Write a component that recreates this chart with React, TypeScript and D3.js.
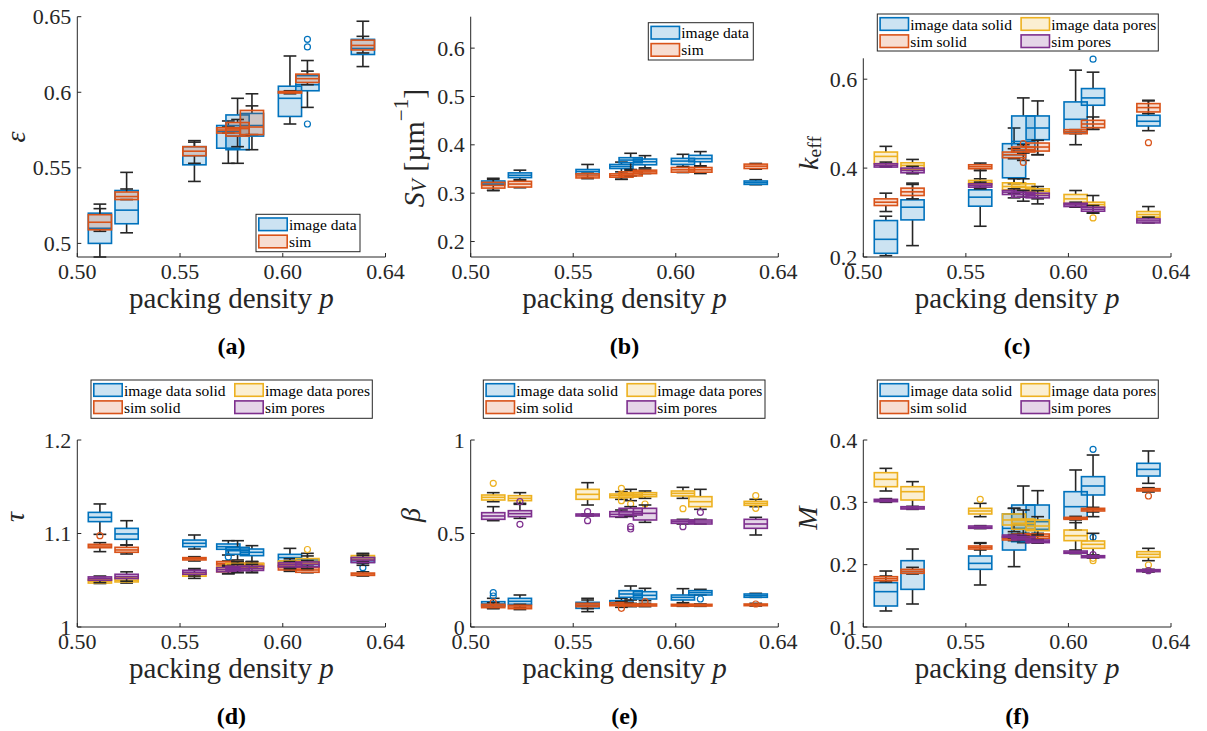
import React from 'react';
import * as d3 from 'd3';

// x positions of the box groups (packing density)
const packingDensity = [0.511, 0.524, 0.557, 0.5735, 0.578, 0.585, 0.6035, 0.612, 0.639];
const xTickValues = [0.5, 0.55, 0.6, 0.65];
const xTickLabels = ['0.50', '0.55', '0.60', '0.64'];

// every row: [lower whisker, q1, median, q3, upper whisker]; outliers: [group index, value]
const epsImage = [
  [0.491, 0.500, 0.510, 0.520, 0.526], [0.507, 0.513, 0.522, 0.535, 0.547], [0.541, 0.552, 0.558, 0.564, 0.568],
  [0.553, 0.563, 0.574, 0.578, 0.581], [0.553, 0.562, 0.571, 0.585, 0.596], [0.562, 0.571, 0.578, 0.586, 0.591],
  [0.579, 0.584, 0.596, 0.604, 0.624], [0.590, 0.601, 0.605, 0.611, 0.621], [0.617, 0.625, 0.629, 0.635, 0.647],
];
const epsImageOut = [[7, 0.635], [7, 0.630], [7, 0.579]];
const epsSim = [
  [0.508, 0.509, 0.514, 0.519, 0.523], [0.529, 0.529, 0.531, 0.534, 0.536], [0.553, 0.558, 0.561, 0.564, 0.567],
  [0.573, 0.573, 0.575, 0.5765, 0.577], [0.564, 0.571, 0.576, 0.580, 0.582], [0.572, 0.572, 0.577, 0.588, 0.599],
  [0.599, 0.5995, 0.600, 0.6005, 0.601], [0.605, 0.6065, 0.609, 0.612, 0.614], [0.626, 0.628, 0.631, 0.6345, 0.637],
];

const svImage = [
  [0.3056, 0.3175, 0.321, 0.3252, 0.3308], [0.3266, 0.3322, 0.337, 0.342, 0.3476], [0.3315, 0.340, 0.3448, 0.349, 0.3594],
  [0.3287, 0.351, 0.3552, 0.3594, 0.3643], [0.3476, 0.3629, 0.3685, 0.3734, 0.3825], [0.3524, 0.3587, 0.365, 0.3706, 0.3776],
  [0.3545, 0.3594, 0.3664, 0.372, 0.3804], [0.3566, 0.365, 0.3713, 0.3783, 0.386], [0.3175, 0.3182, 0.3217, 0.3252, 0.328],
];
const svSim = [
  [0.3056, 0.3105, 0.316, 0.3224, 0.3287], [0.3112, 0.3126, 0.3189, 0.3245, 0.328], [0.330, 0.3315, 0.3357, 0.340, 0.3413],
  [0.3287, 0.333, 0.3364, 0.340, 0.3441], [0.3357, 0.3357, 0.340, 0.3441, 0.349], [0.3406, 0.3406, 0.3441, 0.3476, 0.3497],
  [0.3427, 0.3434, 0.3483, 0.3531, 0.3552], [0.3406, 0.3434, 0.3483, 0.3531, 0.3552], [0.3497, 0.351, 0.3559, 0.3601, 0.3615],
];

const keffImageSolid = [
  [0.203, 0.2083, 0.2398, 0.282, 0.2917], [0.2256, 0.2835, 0.312, 0.3286, 0.3662], [0.2692, 0.3143, 0.3346, 0.3511, 0.3759],
  [0.3647, 0.3782, 0.430, 0.4549, 0.4902], [0.4173, 0.44, 0.46, 0.5173, 0.5579], [0.4301, 0.4639, 0.4902, 0.5173, 0.5511],
  [0.4526, 0.4812, 0.5098, 0.5489, 0.6203], [0.4872, 0.5414, 0.5579, 0.5789, 0.6158], [0.4842, 0.4947, 0.5053, 0.5188, 0.5511],
];
const keffImageSolidOut = [[7, 0.6451]];
const keffSimSolid = [
  [0.3023, 0.3158, 0.3233, 0.3308, 0.3436], [0.3308, 0.3383, 0.3466, 0.3549, 0.3632], [0.3947, 0.3985, 0.403, 0.4075, 0.4113],
  [0.4211, 0.4233, 0.4301, 0.4361, 0.4436], [0.4338, 0.4361, 0.4413, 0.4474, 0.4526], [0.4301, 0.4383, 0.4474, 0.4564, 0.4624],
  [0.4774, 0.4774, 0.482, 0.4865, 0.4865], [0.4872, 0.491, 0.4992, 0.5075, 0.515], [0.5226, 0.5263, 0.5361, 0.5451, 0.5526],
];
const keffSimSolidOut = [[4, 0.4549], [4, 0.4128], [8, 0.4571]];
const keffImagePores = [
  [0.404, 0.4098, 0.4263, 0.4361, 0.4489], [0.39, 0.3962, 0.406, 0.412, 0.4195], [0.3571, 0.3632, 0.3677, 0.3722, 0.3947],
  [0.3421, 0.3511, 0.3586, 0.3669, 0.3759], [0.3346, 0.3511, 0.3571, 0.3647, 0.3759], [0.3308, 0.3421, 0.3481, 0.3534, 0.3586],
  [0.312, 0.3195, 0.3308, 0.3406, 0.3496], [0.2992, 0.312, 0.318, 0.3233, 0.3383], [0.2895, 0.2895, 0.2955, 0.3023, 0.3135],
];
const keffImagePoresOut = [[7, 0.288]];
const keffSimPores = [
  [0.4023, 0.4023, 0.406, 0.4098, 0.4135], [0.3872, 0.3895, 0.3947, 0.40, 0.4038], [0.3534, 0.3571, 0.3609, 0.3647, 0.3684],
  [0.333, 0.3406, 0.3459, 0.3496, 0.3534], [0.3256, 0.3346, 0.3406, 0.3459, 0.3496], [0.3195, 0.3331, 0.3383, 0.3436, 0.3496],
  [0.3135, 0.3135, 0.3173, 0.321, 0.3233], [0.2985, 0.303, 0.3075, 0.312, 0.3158], [0.2767, 0.2767, 0.2812, 0.2857, 0.2895],
];

const tauImageSolid = [
  [1.0991, 1.1127, 1.1173, 1.1226, 1.1316], [1.0877, 1.0938, 1.0995, 1.1055, 1.1137], [1.0834, 1.0859, 1.0895, 1.093, 1.0984],
  [1.077, 1.0831, 1.0859, 1.0888, 1.0923], [1.0717, 1.0777, 1.0816, 1.0852, 1.0923], [1.070, 1.0763, 1.0799, 1.0834, 1.087],
  [1.061, 1.0706, 1.0742, 1.0777, 1.0841], [1.061, 1.0645, 1.0681, 1.0717, 1.0788], [1.0681, 1.0692, 1.0717, 1.0742, 1.0788],
];
const tauImageSolidOut = [[3, 1.0749], [8, 1.0635]];
const tauSimSolid = [
  [1.0806, 1.0848, 1.0866, 1.0884, 1.0902], [1.0781, 1.0799, 1.0824, 1.0852, 1.0877], [1.0706, 1.0717, 1.073, 1.0742, 1.0752],
  [1.0652, 1.0663, 1.068, 1.070, 1.0706], [1.0635, 1.0645, 1.0663, 1.068, 1.0695], [1.0635, 1.0645, 1.0663, 1.068, 1.0695],
  [1.0595, 1.061, 1.0635, 1.0656, 1.067], [1.058, 1.0585, 1.061, 1.0635, 1.0645], [1.0545, 1.0552, 1.0567, 1.0577, 1.059],
];
const tauSimSolidOut = [[0, 1.0977]];
const tauImagePores = [
  [1.0465, 1.047, 1.049, 1.051, 1.052], [1.047, 1.0482, 1.050, 1.0525, 1.0535], [1.052, 1.0543, 1.0561, 1.0579, 1.061],
  [1.057, 1.0589, 1.0616, 1.0643, 1.066], [1.06, 1.0625, 1.065, 1.0679, 1.07], [1.06, 1.0625, 1.065, 1.0679, 1.07],
  [1.064, 1.066, 1.068, 1.0707, 1.073], [1.065, 1.0679, 1.070, 1.0732, 1.076], [1.07, 1.0721, 1.0742, 1.0764, 1.078],
];
const tauImagePoresOut = [[7, 1.0829]];
const tauSimPores = [
  [1.0475, 1.050, 1.052, 1.0536, 1.0545], [1.049, 1.0518, 1.054, 1.0564, 1.059], [1.0545, 1.0564, 1.0586, 1.0607, 1.0625],
  [1.057, 1.059, 1.0613, 1.0636, 1.065], [1.058, 1.0605, 1.0625, 1.065, 1.067], [1.058, 1.0605, 1.0625, 1.065, 1.067],
  [1.0625, 1.0643, 1.0665, 1.0686, 1.070], [1.0625, 1.0643, 1.067, 1.0696, 1.071], [1.066, 1.0689, 1.0716, 1.0743, 1.0765],
];

const betaImageSolid = [
  [0.0998, 0.1123, 0.123, 0.1355, 0.1533], [0.1052, 0.1212, 0.1373, 0.1533, 0.1711], [0.082, 0.0998, 0.1159, 0.1319, 0.1533],
  [0.1159, 0.123, 0.132, 0.1408, 0.1533], [0.1444, 0.1587, 0.1765, 0.1943, 0.2193], [0.1408, 0.1497, 0.1693, 0.1889, 0.2068],
  [0.1301, 0.1444, 0.1587, 0.1711, 0.205], [0.1711, 0.1711, 0.1836, 0.1943, 0.2015], [0.1587, 0.1587, 0.1676, 0.1765, 0.18],
];
const betaImageSolidOut = [[0, 0.1836], [0, 0.1658], [7, 0.1497]];
const betaSimSolid = [
  [0.098, 0.1034, 0.1123, 0.1212, 0.1301], [0.093, 0.098, 0.107, 0.1159, 0.1212], [0.098, 0.1087, 0.1177, 0.1266, 0.1444],
  [0.1052, 0.1141, 0.1212, 0.1301, 0.1355], [0.1087, 0.1123, 0.1177, 0.123, 0.1266], [0.1087, 0.1123, 0.1177, 0.123, 0.1266],
  [0.1105, 0.1123, 0.1159, 0.1212, 0.123], [0.1105, 0.1123, 0.1159, 0.1212, 0.123], [0.1123, 0.1141, 0.1177, 0.123, 0.1266],
];
const betaSimSolidOut = [[0, 0.1319], [3, 0.0998], [5, 0.1355], [8, 0.123]];
const betaImagePores = [
  [0.6702, 0.6791, 0.6934, 0.7059, 0.7184], [0.6613, 0.6756, 0.6881, 0.7023, 0.7184], [0.6524, 0.6827, 0.7094, 0.7362, 0.7718],
  [0.6827, 0.6916, 0.7023, 0.7112, 0.7237], [0.6756, 0.6934, 0.7059, 0.7184, 0.7362], [0.688, 0.697, 0.7077, 0.7184, 0.7273],
  [0.688, 0.7005, 0.7148, 0.7273, 0.7469], [0.6292, 0.6435, 0.6702, 0.697, 0.7362], [0.6435, 0.6506, 0.6613, 0.672, 0.683],
];
const betaImagePoresOut = [[0, 0.7683], [3, 0.7415], [3, 0.6756], [4, 0.6578], [5, 0.6578], [6, 0.6328], [8, 0.7023], [8, 0.6346]];
const betaSimPores = [
  [0.5686, 0.5758, 0.5936, 0.6114, 0.6435], [0.5811, 0.59, 0.606, 0.622, 0.656], [0.5936, 0.5936, 0.5989, 0.6043, 0.6043],
  [0.5865, 0.59, 0.6025, 0.6168, 0.6257], [0.5936, 0.5989, 0.6168, 0.6346, 0.6435], [0.5597, 0.5722, 0.6078, 0.6346, 0.6524],
  [0.5508, 0.5544, 0.5633, 0.5722, 0.5758], [0.5508, 0.5508, 0.5615, 0.5722, 0.5758], [0.492, 0.5276, 0.5508, 0.5758, 0.5865],
];
const betaSimPoresOut = [[1, 0.6702], [1, 0.549], [2, 0.6168], [2, 0.5686], [4, 0.5365], [4, 0.524], [6, 0.5365], [7, 0.6132]];

const mImageSolid = [
  [0.1257, 0.1337, 0.1567, 0.1711, 0.1818], [0.1369, 0.1604, 0.1888, 0.2064, 0.2251], [0.1674, 0.1925, 0.2021, 0.2139, 0.2342],
  [0.1968, 0.2235, 0.2583, 0.2813, 0.2904], [0.2353, 0.2369, 0.2636, 0.2957, 0.3262], [0.2396, 0.2567, 0.269, 0.2957, 0.3187],
  [0.2556, 0.2743, 0.293, 0.3171, 0.3519], [0.277, 0.3118, 0.3262, 0.3412, 0.3759], [0.3305, 0.3422, 0.3529, 0.3626, 0.3824],
];
const mImageSolidOut = [[7, 0.385], [7, 0.2439]];
const mSimSolid = [
  [0.1722, 0.1743, 0.1775, 0.1807, 0.1898], [0.185, 0.1861, 0.1893, 0.1925, 0.1957], [0.2235, 0.2251, 0.2278, 0.23, 0.2353],
  [0.2385, 0.2396, 0.2422, 0.2449, 0.2465], [0.2428, 0.2439, 0.2465, 0.2492, 0.2503], [0.2406, 0.2422, 0.2455, 0.2492, 0.2503],
  [0.2717, 0.2727, 0.2743, 0.2759, 0.2775], [0.2845, 0.2861, 0.2882, 0.2904, 0.292], [0.3166, 0.3182, 0.3198, 0.3219, 0.3235],
];
const mSimSolidOut = [[8, 0.3102]];
const mImagePores = [
  [0.3182, 0.3251, 0.3369, 0.3476, 0.3545], [0.2904, 0.3037, 0.3171, 0.3251, 0.3332], [0.277, 0.2813, 0.2861, 0.2904, 0.2984],
  [0.253, 0.2636, 0.2717, 0.2813, 0.2904], [0.245, 0.2567, 0.2663, 0.2733, 0.2877], [0.2476, 0.2545, 0.262, 0.2717, 0.277],
  [0.2235, 0.2385, 0.2465, 0.2556, 0.2674], [0.2155, 0.2262, 0.2326, 0.238, 0.2503], [0.2064, 0.2118, 0.2166, 0.2209, 0.2262],
];
const mImagePoresOut = [[2, 0.3048], [7, 0.2102], [7, 0.2064], [8, 0.1995]];
const mSimPores = [
  [0.3, 0.3011, 0.3027, 0.3048, 0.306], [0.2887, 0.2893, 0.2909, 0.293, 0.2936], [0.2578, 0.2583, 0.2599, 0.262, 0.2626],
  [0.243, 0.2439, 0.2457, 0.2476, 0.2485], [0.239, 0.2396, 0.242, 0.2449, 0.2455], [0.2345, 0.2353, 0.2374, 0.2396, 0.2402],
  [0.2176, 0.2182, 0.2198, 0.2219, 0.2225], [0.2106, 0.2112, 0.2128, 0.2144, 0.215], [0.1882, 0.1888, 0.1904, 0.192, 0.1926],
];
const mSimPoresOut = [[7, 0.216], [8, 0.1904]];

const BLUE = '#0072BD';
const ORANGE = '#D95319';
const YELLOW = '#EDB120';
const PURPLE = '#7E2F8E';
const INK = '#262626';
const FONT = '"Liberation Serif", "Times New Roman", serif';
const BOX_WIDTH = 0.0113;

const ser = (name, color, rows, outliers = []) => ({ name, color, rows, outliers });

const row1 = { top: 16.7, bottom: 257 };
const row2 = { top: 440, bottom: 627 };
const col1 = { left: 77.3, right: 385.5 };
const col2 = { left: 470.7, right: 778.3 };
const col3 = { left: 863.3, right: 1171 };

const panels = [
  {
    tag: '(a)', ...col1, ...row1, yDomain: [0.491, 0.65], yTicks: [0.5, 0.55, 0.6, 0.65],
    ylabel: 'eps', ylabelPos: [15, 137],
    series: [ser('image data', BLUE, epsImage, epsImageOut), ser('sim', ORANGE, epsSim)],
    legend: { x: 256, y: 214.3, w: 104, h: 37.4 },
  },
  {
    tag: '(b)', ...col2, ...row1, yDomain: [0.168, 0.665], yTicks: [0.2, 0.3, 0.4, 0.5, 0.6],
    ylabel: 'sv', ylabelPos: [413, 148],
    series: [ser('image data', BLUE, svImage), ser('sim', ORANGE, svSim)],
    legend: { x: 648.3, y: 22.7, w: 105, h: 37.3 },
  },
  {
    tag: '(c)', ...col3, ...row1, top: 58.3, yDomain: [0.2, 0.647], yTicks: [0.2, 0.4, 0.6],
    ylabel: 'keff', ylabelPos: [808, 153],
    series: [
      ser('image data solid', BLUE, keffImageSolid, keffImageSolidOut),
      ser('sim solid', ORANGE, keffSimSolid, keffSimSolidOut),
      ser('image data pores', YELLOW, keffImagePores, keffImagePoresOut),
      ser('sim pores', PURPLE, keffSimPores),
    ],
    legend: { x: 877.3, y: 14, w: 281, h: 37 },
  },
  {
    tag: '(d)', ...col1, ...row2, yDomain: [1, 1.2], yTicks: [1, 1.1, 1.2],
    ylabel: 'tau', ylabelPos: [14, 517],
    series: [
      ser('image data solid', BLUE, tauImageSolid, tauImageSolidOut),
      ser('sim solid', ORANGE, tauSimSolid, tauSimSolidOut),
      ser('image data pores', YELLOW, tauImagePores, tauImagePoresOut),
      ser('sim pores', PURPLE, tauSimPores),
    ],
    legend: { x: 91, y: 380, w: 281.3, h: 38.3 },
  },
  {
    tag: '(e)', ...col2, ...row2, yDomain: [0, 1], yTicks: [0, 0.5, 1],
    ylabel: 'beta', ylabelPos: [410, 515],
    series: [
      ser('image data solid', BLUE, betaImageSolid, betaImageSolidOut),
      ser('sim solid', ORANGE, betaSimSolid, betaSimSolidOut),
      ser('image data pores', YELLOW, betaImagePores, betaImagePoresOut),
      ser('sim pores', PURPLE, betaSimPores, betaSimPoresOut),
    ],
    legend: { x: 483.3, y: 380, w: 281.7, h: 38.3 },
  },
  {
    tag: '(f)', ...col3, ...row2, yDomain: [0.1, 0.4], yTicks: [0.1, 0.2, 0.3, 0.4],
    ylabel: 'M', ylabelPos: [807, 518],
    series: [
      ser('image data solid', BLUE, mImageSolid, mImageSolidOut),
      ser('sim solid', ORANGE, mSimSolid, mSimSolidOut),
      ser('image data pores', YELLOW, mImagePores, mImagePoresOut),
      ser('sim pores', PURPLE, mSimPores, mSimPoresOut),
    ],
    legend: { x: 877.3, y: 380, w: 281, h: 38.3 },
  },
];

function YLabel({ kind, x, y }) {
  const fs = kind === 'sv' ? 30 : 28;
  const sub = fs * 0.7;
  let content;
  if (kind === 'eps') content = <tspan fontStyle="italic">ε</tspan>;
  else if (kind === 'tau') content = <tspan fontStyle="italic">τ</tspan>;
  else if (kind === 'beta') content = <tspan fontStyle="italic">β</tspan>;
  else if (kind === 'M') content = <tspan fontStyle="italic">M</tspan>;
  else if (kind === 'keff')
    content = (
      <>
        <tspan fontStyle="italic">k</tspan>
        <tspan fontSize={sub} dy={6}>eff</tspan>
      </>
    );
  else
    content = (
      <>
        <tspan fontStyle="italic">S</tspan>
        <tspan fontStyle="italic" fontSize={sub} dy={6}>V</tspan>
        <tspan dy={-6}> [µm</tspan>
        <tspan fontSize={sub} dy={-12}>−1</tspan>
        <tspan dy={12}>]</tspan>
      </>
    );
  return (
    <text transform={`translate(${x},${y}) rotate(-90)`} textAnchor="middle" dominantBaseline="central"
      fontSize={fs} fill={INK} fontFamily={FONT}>
      {content}
    </text>
  );
}

function BoxSeries({ s, x, y }) {
  const half = (x(BOX_WIDTH) - x(0)) / 2;
  const cap = half * 0.55;
  return (
    <g>
      {s.rows.map((r, i) => {
        const cx = x(packingDensity[i]);
        return (
          <g key={i}>
            <g stroke={INK} strokeWidth={1.6}>
              <line x1={cx} x2={cx} y1={y(r[3])} y2={y(r[4])} />
              <line x1={cx} x2={cx} y1={y(r[1])} y2={y(r[0])} />
              <line x1={cx - cap} x2={cx + cap} y1={y(r[4])} y2={y(r[4])} />
              <line x1={cx - cap} x2={cx + cap} y1={y(r[0])} y2={y(r[0])} />
            </g>
            <rect x={cx - half} y={y(r[3])} width={2 * half} height={Math.max(0.5, y(r[1]) - y(r[3]))}
              fill={s.color} fillOpacity={0.2} stroke={s.color} strokeWidth={1.6} />
            <line x1={cx - half} x2={cx + half} y1={y(r[2])} y2={y(r[2])} stroke={s.color} strokeWidth={1.6} />
          </g>
        );
      })}
      {s.outliers.map(([i, v], k) => (
        <circle key={'o' + k} cx={x(packingDensity[i])} cy={y(v)} r={3} fill="none" stroke={s.color} strokeWidth={1.2} />
      ))}
    </g>
  );
}

function Legend({ lg, series }) {
  const rows = [lg.y + 10, lg.y + 27.2];
  const place = series.length === 2
    ? [[0, 0], [0, 1]]
    : [[0, 0], [0, 1], [1, 0], [1, 1]]; // image solid, sim solid, image pores, sim pores
  return (
    <g>
      <rect x={lg.x} y={lg.y} width={lg.w} height={lg.h} fill="#fff" stroke={INK} strokeWidth={1} />
      {series.map((s, k) => {
        const [col, row] = place[k];
        const bx = lg.x + col * 141;
        const cy = rows[row];
        return (
          <g key={k}>
            <rect x={bx + 2.8} y={cy - 6.3} width={28.4} height={12.6} fill={s.color} fillOpacity={0.2}
              stroke={s.color} strokeWidth={1.6} />
            <text x={bx + 33} y={cy} dominantBaseline="central" fontSize={15.5} fill="#000" fontFamily={FONT}>
              {s.name}
            </text>
          </g>
        );
      })}
    </g>
  );
}

function Panel({ p }) {
  const x = d3.scaleLinear().domain([0.5, 0.65]).range([p.left, p.right]);
  const y = d3.scaleLinear().domain(p.yDomain).range([p.bottom, p.top]);
  const cx = (p.left + p.right) / 2;
  return (
    <g>
      {p.series.map((s, k) => <BoxSeries key={k} s={s} x={x} y={y} />)}
      <g stroke={INK} strokeWidth={1}>
        <line x1={p.left} x2={p.right} y1={p.bottom} y2={p.bottom} />
        <line x1={p.left} x2={p.left} y1={p.bottom} y2={p.top} />
        {xTickValues.map((t) => (
          <line key={t} x1={x(t)} x2={x(t)} y1={p.bottom} y2={p.bottom - 4} />
        ))}
        {p.yTicks.map((t) => (
          <line key={t} x1={p.left} x2={p.left + 4} y1={y(t)} y2={y(t)} />
        ))}
      </g>
      <g fontFamily={FONT} fill={INK}>
        {xTickValues.map((t, i) => (
          <text key={t} x={x(t)} y={p.bottom + 22} textAnchor="middle" fontSize={22}>{xTickLabels[i]}</text>
        ))}
        {p.yTicks.map((t) => (
          <text key={t} x={p.left - 6} y={y(t)} textAnchor="end" dominantBaseline="central" fontSize={22}>{String(t)}</text>
        ))}
        <text x={cx} y={p.bottom + 51} textAnchor="middle" fontSize={29}>
          packing density <tspan fontStyle="italic">p</tspan>
        </text>
        <text x={cx} y={p.bottom + 97} textAnchor="middle" fontSize={24} fontWeight="bold" fill="#000">{p.tag}</text>
      </g>
      <YLabel kind={p.ylabel} x={p.ylabelPos[0]} y={p.ylabelPos[1]} />
      <Legend lg={p.legend} series={p.series} />
    </g>
  );
}

export default function App() {
  return (
    <svg width={1207} height={731} style={{ position: 'absolute', left: 0, top: 0, background: '#fff' }}>
      {panels.map((p) => <Panel key={p.tag} p={p} />)}
    </svg>
  );
}
